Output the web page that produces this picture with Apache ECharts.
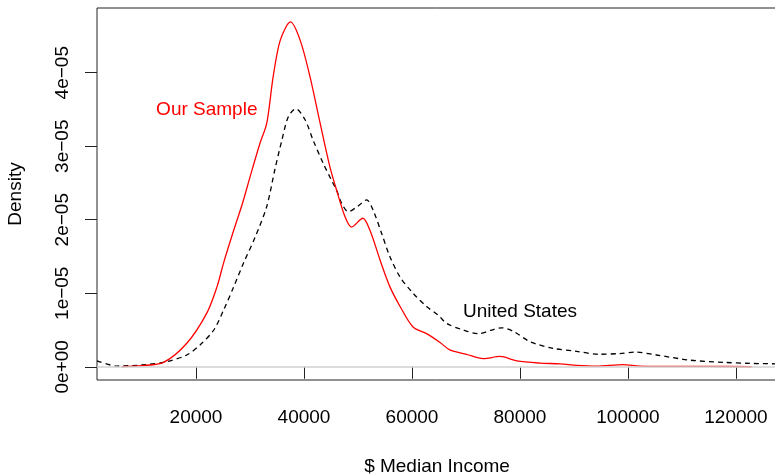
<!DOCTYPE html>
<html>
<head>
<meta charset="utf-8">
<script src="https://cdn.jsdelivr.net/npm/echarts@6/dist/echarts.min.js"></script>
<style>
  html, body { margin: 0; padding: 0; background: #fff; }
  #main { width: 775px; height: 474px; }
</style>
</head>
<body>
<div id="main"></div>
<script>
// density estimates
var sampleIncome = [6300, 10000, 14000, 18300, 22000, 23900, 25100, 27000, 28600, 30000, 31850, 33100, 34300, 35600, 37500, 39300, 41100, 43000, 44800, 46050, 47600, 48800, 50900, 52200, 54100, 55900, 57800, 60200, 62700, 65200, 67000, 70100, 73200, 76300, 79400, 83700, 87400, 90500, 94200, 99100, 102200, 108400, 115000, 122900];
var sampleDensity = [0, 0.015e-5, 0.06e-5, 0.32e-5, 0.73e-5, 1.09e-5, 1.41e-5, 1.86e-5, 2.22e-5, 2.58e-5, 3.04e-5, 3.31e-5, 3.95e-5, 4.44e-5, 4.69e-5, 4.44e-5, 3.95e-5, 3.31e-5, 2.72e-5, 2.40e-5, 2.04e-5, 1.90e-5, 2.02e-5, 1.86e-5, 1.45e-5, 1.09e-5, 0.82e-5, 0.54e-5, 0.45e-5, 0.33e-5, 0.23e-5, 0.17e-5, 0.11e-5, 0.14e-5, 0.08e-5, 0.05e-5, 0.04e-5, 0.02e-5, 0.01e-5, 0.03e-5, 0.01e-5, 0.005e-5, 0.005e-5, 0];

var usIncome = [1667, 5400, 10900, 14600, 18300, 20800, 23300, 25100, 27000, 28800, 31000, 33100, 34600, 35900, 37100, 38500, 40200, 41700, 43600, 45000, 46050, 47000, 48200, 49900, 51600, 52800, 54400, 55900, 57800, 60200, 62700, 64900, 66400, 69500, 72300, 74750, 76600, 78800, 81900, 86200, 90500, 94500, 98500, 101300, 105300, 111500, 117700, 122600, 127600];
var usDensity = [0.08e-5, 0.01e-5, 0.03e-5, 0.07e-5, 0.16e-5, 0.30e-5, 0.50e-5, 0.77e-5, 1.09e-5, 1.41e-5, 1.77e-5, 2.18e-5, 2.68e-5, 3.08e-5, 3.40e-5, 3.51e-5, 3.36e-5, 3.08e-5, 2.76e-5, 2.55e-5, 2.40e-5, 2.22e-5, 2.11e-5, 2.18e-5, 2.27e-5, 2.13e-5, 1.81e-5, 1.50e-5, 1.22e-5, 1.00e-5, 0.82e-5, 0.70e-5, 0.59e-5, 0.50e-5, 0.45e-5, 0.50e-5, 0.53e-5, 0.48e-5, 0.34e-5, 0.25e-5, 0.21e-5, 0.17e-5, 0.18e-5, 0.20e-5, 0.16e-5, 0.09e-5, 0.06e-5, 0.046e-5, 0.04e-5];

var xTicks = [20000, 40000, 60000, 80000, 100000, 120000];
var yTicks = [0, 1e-5, 2e-5, 3e-5, 4e-5];

var labels = [
  { text: 'Our Sample', x: 22000, y: 3.5e-5, color: '#ff0000' },
  { text: 'United States', x: 80000, y: 0.75e-5, color: '#000000' }
];

function pairs(xs, ys) {
  return xs.map(function (x, i) { return [x, ys[i]]; });
}

function yLabel(v) {
  var n = Math.round(v * 1e5);
  if (n === 0) return '0e+00';
  return n + 'e\u221205';
}

var font = 'Liberation Sans, Arial, Helvetica, sans-serif';

var chart = echarts.init(document.getElementById('main'));
chart.setOption({
  animation: false,
  textStyle: { fontFamily: font },
  grid: {
    left: 97, top: 8, right: -2, bottom: 94,
    outerBoundsMode: 'none',
    containLabel: false,
    show: true, borderColor: '#222', borderWidth: 1, backgroundColor: 'transparent'
  },
  xAxis: {
    type: 'value',
    min: 1667, max: 127600,
    name: '$ Median Income',
    nameLocation: 'middle',
    nameGap: 77,
    nameTextStyle: { fontSize: 19, color: '#000', fontFamily: font },
    axisLine: { show: false },
    splitLine: { show: false },
    axisTick: { show: true, length: 12, customValues: xTicks, lineStyle: { color: '#222', width: 1 } },
    axisLabel: {
      customValues: xTicks, fontSize: 19, color: '#000', margin: 28, fontFamily: font,
      formatter: function (v) { return String(v); }
    }
  },
  yAxis: {
    type: 'value',
    min: -0.18e-5, max: 4.88e-5,
    name: 'Density',
    nameLocation: 'middle',
    nameGap: 72,
    nameRotate: 90,
    nameTextStyle: { fontSize: 19, color: '#000', fontFamily: font },
    axisLine: { show: false },
    splitLine: { show: false },
    axisTick: { show: true, length: 12, customValues: yTicks, lineStyle: { color: '#222', width: 1 } },
    axisLabel: { customValues: yTicks, rotate: 90, fontSize: 19, color: '#000', margin: 25, formatter: yLabel, fontFamily: font }
  },
  series: [
    {
      type: 'line',
      data: [],
      silent: true,
      z: 1,
      markLine: {
        silent: true,
        symbol: ['none', 'none'],
        label: { show: false },
        lineStyle: { color: '#d0d0d0', type: 'solid', width: 1.5 },
        data: [{ yAxis: 0 }]
      }
    },
    {
      name: 'United States',
      type: 'line',
      data: pairs(usIncome, usDensity),
      showSymbol: false,
      smooth: 0.3,
      z: 2,
      lineStyle: { color: '#000', width: 1.3, type: [5, 4] }
    },
    {
      name: 'Our Sample',
      type: 'line',
      data: pairs(sampleIncome, sampleDensity),
      showSymbol: false,
      smooth: 0.3,
      z: 3,
      lineStyle: { color: '#ff0000', width: 1.3 },
      markPoint: {
        silent: true,
        symbol: 'circle',
        symbolSize: 1,
        itemStyle: { color: 'transparent' },
        label: {
          show: true, position: 'inside', fontSize: 19, fontFamily: font,
          formatter: function (p) { return p.name; }
        },
        data: labels.map(function (l) {
          return { name: l.text, coord: [l.x, l.y], label: { color: l.color } };
        })
      }
    }
  ]
});
</script>
</body>
</html>
